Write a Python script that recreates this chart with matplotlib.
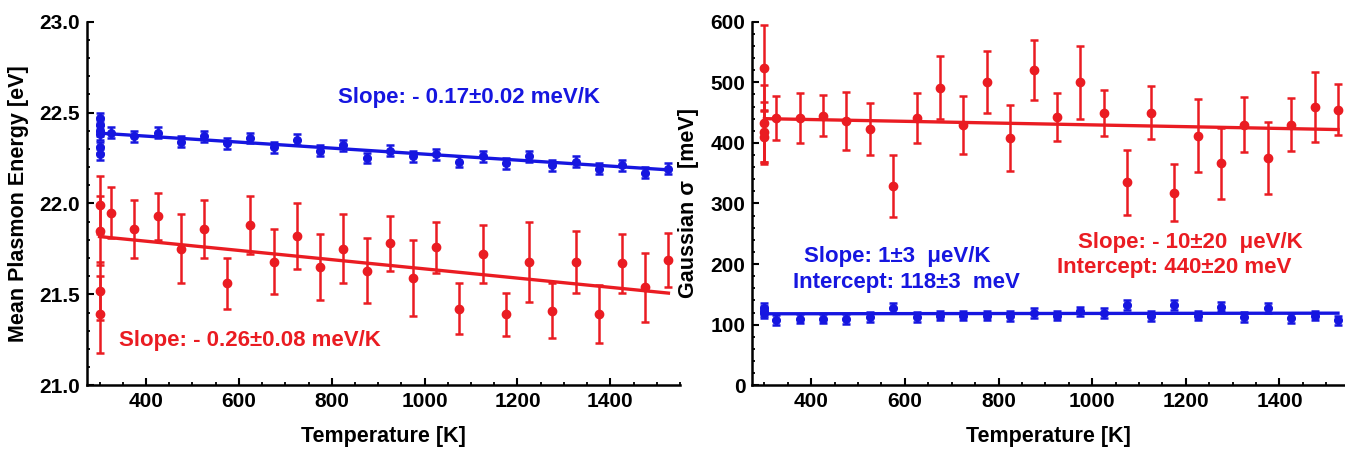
import numpy as np
import matplotlib.pyplot as plt
from matplotlib.ticker import MultipleLocator, FormatStrFormatter

plt.rcParams['font.family'] = ['Liberation Sans', 'DejaVu Sans']
plt.rcParams['font.weight'] = 'bold'

BLUE = '#1616e0'
RED = '#ea1c22'

# temperatures of the sweep (K); the 300 K points are repeated measurements
temps = [325, 375, 425, 475, 525, 575, 625, 675, 725, 775, 825, 875, 925,
         975, 1025, 1075, 1125, 1175, 1225, 1275, 1325, 1375, 1425, 1475, 1525]

# --- left panel: mean plasmon energy (eV)
e_blue_300 = [22.47, 22.43, 22.40, 22.38, 22.31, 22.27]
e_blue = [22.39, 22.37, 22.39, 22.34, 22.37, 22.33, 22.36, 22.31, 22.35, 22.29,
          22.32, 22.25, 22.29, 22.26, 22.27, 22.23, 22.26, 22.22, 22.26, 22.21,
          22.23, 22.19, 22.21, 22.17, 22.19]
e_blue_err = 0.03

e_red_300 = [21.99, 21.85, 21.52, 21.39]
e_red_300_err = [0.16, 0.19, 0.16, 0.21]
e_red = [21.95, 21.86, 21.93, 21.75, 21.86, 21.56, 21.88, 21.68, 21.82, 21.65,
         21.75, 21.63, 21.78, 21.59, 21.76, 21.42, 21.72, 21.39, 21.68, 21.41,
         21.68, 21.39, 21.67, 21.54, 21.69]
e_red_err = [0.14, 0.16, 0.13, 0.19, 0.16, 0.14, 0.16, 0.18, 0.18, 0.18,
             0.19, 0.18, 0.15, 0.21, 0.14, 0.14, 0.16, 0.12, 0.22, 0.15,
             0.17, 0.16, 0.16, 0.19, 0.15]

fit_T = [300, 1525]
fit_e_blue = [22.387, 22.185]
fit_e_red = [21.818, 21.507]

# --- right panel: gaussian sigma (meV)
s_red_300 = [524, 432, 418, 410]
s_red_300_err = [71, 64, 50, 45]
s_red = [441, 441, 445, 436, 423, 329, 441, 491, 429, 500,
         408, 520, 443, 500, 449, 335, 450, 318, 412, 366,
         430, 375, 430, 459, 455]
s_red_err = [37, 42, 34, 48, 43, 51, 42, 52, 48, 51,
             54, 50, 40, 60, 38, 54, 44, 47, 60, 58,
             45, 59, 44, 58, 42]

s_blue_300 = [128, 123, 119]
s_blue = [108, 110, 110, 109, 113, 128, 113, 115, 115, 115,
          114, 119, 115, 122, 119, 133, 114, 133, 115, 130,
          113, 128, 111, 115, 107]
s_blue_err = 8

fit_s_red = [440, 422]
fit_s_blue = [118, 119]


def style_axes(ax):
    for side in ['top', 'right']:
        ax.spines[side].set_visible(False)
    for side in ['left', 'bottom']:
        ax.spines[side].set_linewidth(1.8)
    ax.tick_params(which='major', direction='in', length=5, width=1.5,
                   labelsize=15, pad=5)
    ax.tick_params(which='minor', direction='in', length=2.5, width=1.3)
    ax.xaxis.set_major_locator(MultipleLocator(200))
    ax.xaxis.set_minor_locator(MultipleLocator(50))


def eb(ax, x, y, err, color, ms):
    ax.errorbar(x, y, yerr=err, fmt='o', color=color, ms=ms, elinewidth=1.8,
                capsize=3, capthick=1.8, zorder=3)


fig = plt.figure(figsize=(13.45, 4.49), dpi=100)
ax1 = fig.add_axes([0.0645, 0.1419, 0.4411, 0.8098])
ax2 = fig.add_axes([0.5593, 0.1419, 0.4407, 0.8098])

# left
eb(ax1, [300] * len(e_blue_300), e_blue_300, e_blue_err, BLUE, 5.5)
eb(ax1, temps, e_blue, e_blue_err, BLUE, 5.5)
eb(ax1, [300] * len(e_red_300), e_red_300, e_red_300_err, RED, 6)
eb(ax1, temps, e_red, e_red_err, RED, 6)
ax1.plot(fit_T, fit_e_blue, color=BLUE, lw=2.4, zorder=2)
ax1.plot(fit_T, fit_e_red, color=RED, lw=2.4, zorder=2)
ax1.set_xlim(272.5, 1550)
ax1.set_ylim(21.0, 23.0)
style_axes(ax1)
ax1.yaxis.set_major_locator(MultipleLocator(0.5))
ax1.yaxis.set_minor_locator(MultipleLocator(0.1))
ax1.yaxis.set_major_formatter(FormatStrFormatter('%.1f'))
ax1.set_xlabel('Temperature [K]', fontsize=15.5, fontweight='bold')
ax1.set_ylabel('Mean Plasmon Energy [eV]', fontsize=15.5, fontweight='bold')
ax1.xaxis.set_label_coords(0.5, -0.112)
ax1.yaxis.set_label_coords(-0.098, 0.5)
ax1.text(1095, 22.585, 'Slope: - 0.17\u00b10.02 meV/K', color=BLUE,
         fontsize=16, fontweight='bold', ha='center', va='center')
ax1.text(623, 21.248, 'Slope: - 0.26\u00b10.08 meV/K', color=RED,
         fontsize=16, fontweight='bold', ha='center', va='center')

# right
eb(ax2, [300] * len(s_red_300), s_red_300, s_red_300_err, RED, 6)
eb(ax2, temps, s_red, s_red_err, RED, 6)
eb(ax2, [300] * len(s_blue_300), s_blue_300, s_blue_err, BLUE, 5.5)
eb(ax2, temps, s_blue, s_blue_err, BLUE, 5.5)
ax2.plot(fit_T, fit_s_red, color=RED, lw=2.4, zorder=2)
ax2.plot(fit_T, fit_s_blue, color=BLUE, lw=2.4, zorder=2)
ax2.set_xlim(274, 1540)
ax2.set_ylim(0, 600)
style_axes(ax2)
ax2.yaxis.set_major_locator(MultipleLocator(100))
ax2.yaxis.set_minor_locator(MultipleLocator(20))
ax2.set_xlabel('Temperature [K]', fontsize=15.5, fontweight='bold')
ax2.set_ylabel('Gaussian \u03c3  [meV]', fontsize=15.5, fontweight='bold')
ax2.xaxis.set_label_coords(0.5, -0.112)
ax2.yaxis.set_label_coords(-0.09, 0.5)
ax2.text(584, 213, 'Slope: 1\u00b13  \u03bceV/K', color=BLUE,
         fontsize=16, fontweight='bold', ha='center', va='center')
ax2.text(603, 170, 'Intercept: 118\u00b13  meV', color=BLUE,
         fontsize=16, fontweight='bold', ha='center', va='center')
ax2.text(1210, 235, 'Slope: - 10\u00b120  \u03bceV/K', color=RED,
         fontsize=16, fontweight='bold', ha='center', va='center')
ax2.text(1176, 194, 'Intercept: 440\u00b120 meV', color=RED,
         fontsize=16, fontweight='bold', ha='center', va='center')

fig.savefig('out.png', dpi=100)
